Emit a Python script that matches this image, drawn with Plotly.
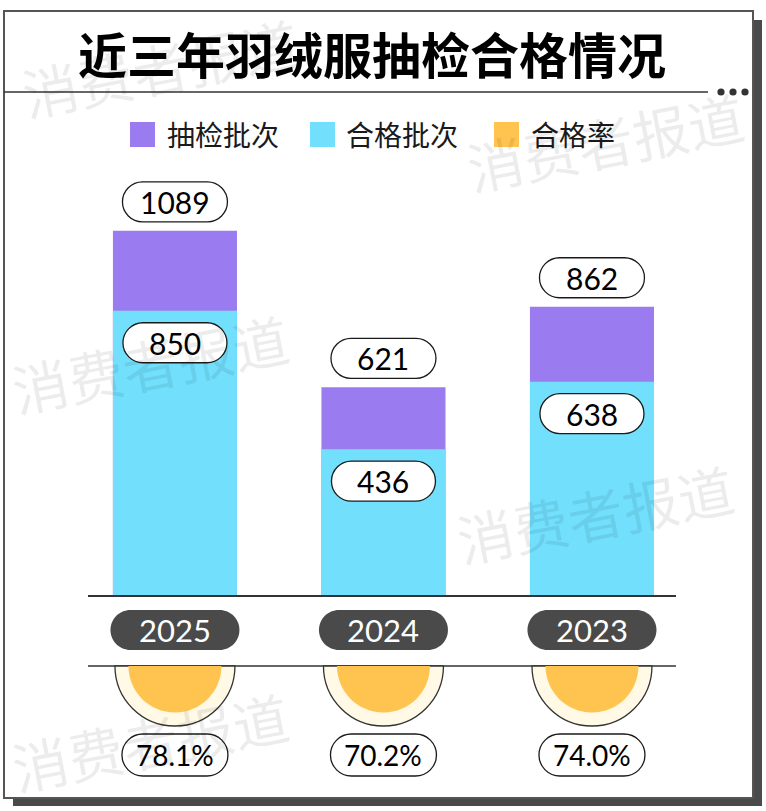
import plotly.graph_objects as go

# ---------------- data ----------------
title = '近三年羽绒服抽检合格情况'
years = ['2025', '2024', '2023']
sampled = [1089, 621, 862]      # 抽检批次
passed = [850, 436, 638]        # 合格批次
pass_rate = [78.1, 70.2, 74.0]  # 合格率 (%)
legend_labels = ['抽检批次', '合格批次', '合格率']
watermark = '消费者报道'

# ---------------- layout constants ----------------
W, H = 766, 811
ML, MR, MT, MB = 88, 90, 100, 216
PW = W - ML - MR
PH = H - MT - MB


def px(x):
    return (x - ML) / PW


def py(y):
    return (H - MB - y) / PH


PURPLE = '#9B7BF0'
CYAN = '#72DFFC'
ORANGE = '#FFC44F'
CREAM = '#FFF9E6'
DARK = '#4A4A4A'
INK = '#1A1A1A'
LINE = '#333333'

NUM_FONT = 'Lato, "Noto Sans", sans-serif'
CJK_FONT = '"Noto Sans CJK SC", sans-serif'


def pill_path(w, h, dy=0.0):
    r = h / 2
    a = w / 2 - r
    k = 0.5523 * r

    def p(x, y):
        return f'{x:.2f},{y + dy:.2f}'
    return (f'M {p(-a, -r)} L {p(a, -r)} C {p(a + k, -r)} {p(a + r, -k)} {p(a + r, 0)} '
            f'C {p(a + r, k)} {p(a + k, r)} {p(a, r)} L {p(-a, r)} '
            f'C {p(-a - k, r)} {p(-a - r, k)} {p(-a - r, 0)} '
            f'C {p(-a - r, -k)} {p(-a - k, -r)} {p(-a, -r)} Z')


def half_disc(R):
    k = 0.5523 * R
    return (f'M {-R:.2f},0 C {-R:.2f},{-k:.2f} {-k:.2f},{-R:.2f} 0,{-R:.2f} '
            f'C {k:.2f},{-R:.2f} {R:.2f},{-k:.2f} {R:.2f},0 Z')


fig = go.Figure()
fig.add_trace(go.Bar(x=years, y=sampled, name=legend_labels[0], marker=dict(color=PURPLE, line=dict(width=0)),
                     width=0.595, hoverinfo='x+y'))
fig.add_trace(go.Bar(x=years, y=passed, name=legend_labels[1], marker=dict(color=CYAN, line=dict(width=0)),
                     width=0.595, hoverinfo='x+y'))

shapes = []
annotations = []

# frame + shadow
shapes.append(dict(type='rect', xref='paper', yref='paper', x0=px(13), x1=px(762), y0=py(806), y1=py(20),
                   fillcolor=DARK, line=dict(width=0), layer='below'))
shapes.append(dict(type='rect', xref='paper', yref='paper', x0=px(4), x1=px(753), y0=py(798), y1=py(11),
                   fillcolor='white', line=dict(color='#555555', width=2), layer='below'))
# title separator + dots
shapes.append(dict(type='line', xref='paper', yref='paper', x0=px(4), x1=px(708), y0=py(92), y1=py(92),
                   line=dict(color=LINE, width=1.5)))
for cx in (721, 733, 745):
    shapes.append(dict(type='circle', xref='paper', yref='paper', x0=px(cx - 3.6), x1=px(cx + 3.6),
                       y0=py(92 + 3.6), y1=py(92 - 3.6), fillcolor=LINE, line=dict(width=0)))

annotations.append(dict(text=f'<b>{title}</b>', xref='paper', yref='paper', x=px(372), y=py(52),
                        xanchor='center', yanchor='middle', showarrow=False,
                        font=dict(family=CJK_FONT, size=49, color='#000000')))

# legend
legend_items = [(130, 165, PURPLE), (310, 344, CYAN), (494, 529, ORANGE)]
for (sx, tx, col), lab in zip(legend_items, legend_labels):
    shapes.append(dict(type='rect', xref='paper', yref='paper', x0=px(sx), x1=px(sx + 25),
                       y0=py(147), y1=py(122), fillcolor=col, line=dict(width=0)))
    annotations.append(dict(text=lab, xref='paper', yref='paper', x=px(tx), y=py(134),
                            xanchor='left', yanchor='middle', showarrow=False,
                            font=dict(family=CJK_FONT, size=28, color=INK)))

# second separator line
shapes.append(dict(type='line', xref='paper', yref='paper', x0=0, x1=1, y0=py(666), y1=py(666),
                   line=dict(color=LINE, width=1.5)))

for i, (yr, tot, ok, rate) in enumerate(zip(years, sampled, passed, pass_rate)):
    # total label pill
    shapes.append(dict(type='path', xref='x', yref='y', xsizemode='pixel', ysizemode='pixel',
                       xanchor=i, yanchor=tot, path=pill_path(105, 40, 29),
                       fillcolor='white', line=dict(color=INK, width=1.3)))
    annotations.append(dict(text=str(tot), x=i, y=tot, yshift=29, showarrow=False,
                            xanchor='center', yanchor='middle',
                            font=dict(family=NUM_FONT, size=30, color='#000000')))
    # pass label pill
    shapes.append(dict(type='path', xref='x', yref='y', xsizemode='pixel', ysizemode='pixel',
                       xanchor=i, yanchor=ok, path=pill_path(104, 40, -32),
                       fillcolor='white', line=dict(color=INK, width=1.3)))
    annotations.append(dict(text=str(ok), x=i, y=ok, yshift=-32, showarrow=False,
                            xanchor='center', yanchor='middle',
                            font=dict(family=NUM_FONT, size=30, color='#000000')))
    # year pill
    shapes.append(dict(type='path', xref='x', yref='paper', xsizemode='pixel', ysizemode='pixel',
                       xanchor=i, yanchor=py(630), path=pill_path(129, 40),
                       fillcolor=DARK, line=dict(width=0)))
    annotations.append(dict(text=yr, x=i, xref='x', yref='paper', y=py(630), showarrow=False,
                            xanchor='center', yanchor='middle',
                            font=dict(family=NUM_FONT, size=31, color='white')))
    # half discs for pass rate
    shapes.append(dict(type='path', xref='x', yref='paper', xsizemode='pixel', ysizemode='pixel',
                       xanchor=i, yanchor=py(666), path=half_disc(60),
                       fillcolor=CREAM, line=dict(color=LINE, width=1.3)))
    shapes.append(dict(type='path', xref='x', yref='paper', xsizemode='pixel', ysizemode='pixel',
                       xanchor=i, yanchor=py(666), path=half_disc(46.5),
                       fillcolor=ORANGE, line=dict(width=0)))
    # pass rate pill
    shapes.append(dict(type='path', xref='x', yref='paper', xsizemode='pixel', ysizemode='pixel',
                       xanchor=i, yanchor=py(755), path=pill_path(106, 42),
                       fillcolor='white', line=dict(color=INK, width=1.3)))
    annotations.append(dict(text=f'{rate:.1f}%', x=i, xref='x', yref='paper', y=py(755), showarrow=False,
                            xanchor='center', yanchor='middle',
                            font=dict(family=NUM_FONT, size=28, color='#000000')))

# watermark
for wx, wy in [(160, 66), (605, 140), (150, 362), (595, 512), (150, 740)]:
    annotations.append(dict(text=watermark, xref='paper', yref='paper', x=px(wx), y=py(wy),
                            xanchor='center', yanchor='middle', showarrow=False, textangle=-11,
                            font=dict(family=CJK_FONT, size=56, color='rgba(0,0,0,0.075)')))

fig.update_layout(
    width=W, height=H,
    margin=dict(l=ML, r=MR, t=MT, b=MB, pad=0),
    paper_bgcolor='white', plot_bgcolor='rgba(0,0,0,0)',
    barmode='overlay', showlegend=False,
    xaxis=dict(type='category', categoryorder='array', categoryarray=years,
               range=[-0.417, 2.403], showticklabels=False, ticks='',
               showgrid=False, zeroline=False, showline=True, linecolor=LINE, linewidth=1.5),
    yaxis=dict(range=[0, PH / 0.3344], visible=False, showgrid=False, zeroline=False),
    shapes=shapes, annotations=annotations,
)

fig.write_html('out.html', config={'displayModeBar': False},
               post_script="document.body.style.margin='0';document.body.style.overflow='hidden';")
